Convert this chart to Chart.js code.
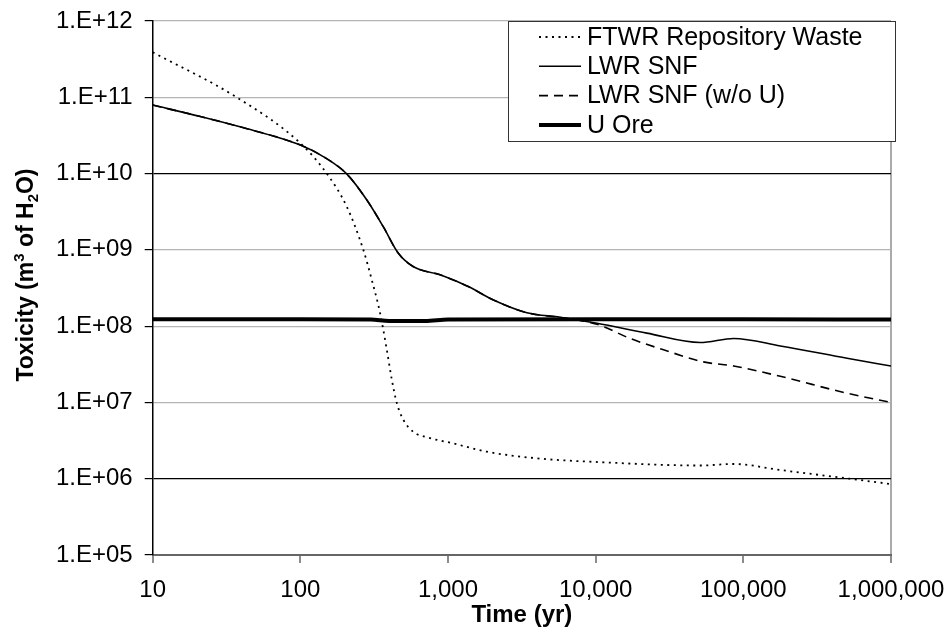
<!DOCTYPE html>
<html>
<head>
<meta charset="utf-8">
<script src="https://cdn.jsdelivr.net/npm/chart.js@4/dist/chart.umd.min.js"></script>
<style>
  html, body { margin: 0; padding: 0; background: #fff; }
  #wrap { width: 946px; height: 637px; }
</style>
</head>
<body>
<div id="wrap"><canvas id="myChart" width="946" height="637"></canvas></div>
<script>
// time axis (yr) and toxicity values (m3 of H2O)
const ftwrTime = [10, 37, 100, 151, 206, 267, 305, 347, 385, 416, 450, 499, 583, 718, 1090, 1830, 4000, 11300, 51000, 86000, 178000, 504000, 1000000];
const ftwrTox  = [3.9e11, 1.0e11, 2.5e10, 1.0e10, 3.7e9, 1.0e9, 4.0e8, 1.47e8, 4.9e7, 2.0e7, 9.8e6, 5.9e6, 4.1e6, 3.5e6, 2.9e6, 2.26e6, 1.85e6, 1.64e6, 1.49e6, 1.56e6, 1.3e6, 1.01e6, 8.5e5];

const lwrTime = [10, 21, 39, 100, 143, 206, 282, 365, 461, 584, 884, 1370, 2030, 3420, 5750, 10200, 22200, 51000, 86000, 178000, 504000, 1000000];
const lwrTox  = [7.9e10, 5.6e10, 4.1e10, 2.37e10, 1.67e10, 9.9e9, 4.5e9, 2.0e9, 9.0e8, 6.0e8, 4.7e8, 3.3e8, 2.2e8, 1.5e8, 1.31e8, 1.09e8, 8.1e7, 6.1e7, 6.9e7, 5.5e7, 3.8e7, 3.0e7];

const lwrNoUTime = [10, 21, 39, 100, 143, 206, 282, 365, 461, 584, 884, 1370, 2030, 3420, 5750, 10200, 17100, 28800, 53700, 86000, 178000, 504000, 1000000];
const lwrNoUTox  = [7.9e10, 5.6e10, 4.1e10, 2.37e10, 1.67e10, 9.9e9, 4.5e9, 2.0e9, 9.0e8, 6.0e8, 4.7e8, 3.3e8, 2.2e8, 1.5e8, 1.3e8, 1.06e8, 6.9e7, 4.9e7, 3.4e7, 3.0e7, 2.2e7, 1.32e7, 1.0e7];

const oreTime = [10, 100, 300, 400, 700, 1000, 10000, 100000, 1000000];
const oreTox  = [1.23e8, 1.23e8, 1.22e8, 1.17e8, 1.17e8, 1.22e8, 1.23e8, 1.23e8, 1.22e8];

const xTicks = [10, 100, 1000, 10000, 100000, 1000000];
const xTickLabels = ['10', '100', '1,000', '10,000', '100,000', '1,000,000'];
const yTicks = [1e5, 1e6, 1e7, 1e8, 1e9, 1e10, 1e11, 1e12];
const yTickLabels = ['1.E+05', '1.E+06', '1.E+07', '1.E+08', '1.E+09', '1.E+10', '1.E+11', '1.E+12'];
const darkGrid = [1e6, 1e10];

const pairs = (xs, ys) => xs.map((x, i) => ({ x: x, y: ys[i] }));
const FONT = "'Liberation Sans', Arial, sans-serif";

// legend drawn as a framed box in the upper right corner
const boxLegend = {
  id: 'boxLegend',
  afterDraw(chart) {
    const ctx = chart.ctx;
    const area = chart.chartArea;
    const x0 = area.right - 383, y0 = area.top, w = 387, h = 120;
    ctx.save();
    ctx.fillStyle = '#fff';
    ctx.fillRect(x0, y0, w, h);
    ctx.strokeStyle = '#333';
    ctx.lineWidth = 1;
    ctx.strokeRect(x0 + 0.5, y0 + 0.5, w, h);
    ctx.font = '25px ' + FONT;
    ctx.textBaseline = 'middle';
    ctx.fillStyle = '#000';
    chart.data.datasets.forEach((ds, i) => {
      const yy = y0 + 16 + i * 29.3;
      ctx.beginPath();
      ctx.setLineDash(ds.borderDash || []);
      ctx.lineWidth = ds.borderWidth;
      ctx.strokeStyle = '#000';
      ctx.moveTo(x0 + 31, yy);
      ctx.lineTo(x0 + 73, yy);
      ctx.stroke();
      ctx.setLineDash([]);
      ctx.fillText(ds.label, x0 + 79, yy + 1);
    });
    ctx.restore();
  }
};

// y axis title with a real superscript 3 and subscript 2
const yTitle = {
  id: 'yTitle',
  afterDraw(chart) {
    const ctx = chart.ctx;
    const area = chart.chartArea;
    const parts = [['Toxicity (m', 0], ['3', -9], [' of H', 0], ['2', 5], ['O)', 0]];
    const big = 'bold 23px ' + FONT;
    const small = 'bold 15px ' + FONT;
    ctx.save();
    let total = 0;
    parts.forEach(p => { ctx.font = p[1] ? small : big; total += ctx.measureText(p[0]).width; });
    ctx.translate(33, (area.top + area.bottom) / 2 - 13);
    ctx.rotate(-Math.PI / 2);
    ctx.fillStyle = '#000';
    ctx.textBaseline = 'alphabetic';
    let x = -total / 2;
    parts.forEach(p => {
      ctx.font = p[1] ? small : big;
      ctx.fillText(p[0], x, p[1]);
      x += ctx.measureText(p[0]).width;
    });
    ctx.restore();
  }
};

const ctx = document.getElementById('myChart');

new Chart(ctx, {
  type: 'line',
  data: {
    datasets: [
      {
        label: 'FTWR Repository Waste',
        data: pairs(ftwrTime, ftwrTox),
        borderColor: '#000',
        borderWidth: 1.8,
        borderDash: [2, 4.5]
      },
      {
        label: 'LWR SNF',
        data: pairs(lwrTime, lwrTox),
        borderColor: '#000',
        borderWidth: 1.6
      },
      {
        label: 'LWR SNF (w/o U)',
        data: pairs(lwrNoUTime, lwrNoUTox),
        borderColor: '#000',
        borderWidth: 1.6,
        borderDash: [9, 6]
      },
      {
        label: 'U Ore',
        data: pairs(oreTime, oreTox),
        borderColor: '#000',
        borderWidth: 4
      }
    ]
  },
  options: {
    responsive: false,
    animation: false,
    cubicInterpolationMode: 'monotone',
    elements: { point: { radius: 0 } },
    layout: { padding: { left: 0, right: 55, top: 21, bottom: 0 } },
    plugins: {
      legend: { display: false },
      tooltip: { enabled: false }
    },
    scales: {
      x: {
        type: 'logarithmic',
        min: 10,
        max: 1000000,
        afterBuildTicks: (scale) => { scale.ticks = xTicks.map(v => ({ value: v })); },
        afterFit: (scale) => { scale.height = 82; scale.paddingLeft = 0; scale.paddingRight = 0; },
        ticks: {
          autoSkip: false,
          maxRotation: 0,
          padding: 13,
          color: '#000',
          font: { family: FONT, size: 24 },
          callback: (v, i) => xTickLabels[i]
        },
        grid: {
          drawOnChartArea: true,
          color: (c) => (c.tick && c.tick.value === 1000000 ? '#aaa' : 'rgba(0,0,0,0)'),
          lineWidth: 2,
          tickLength: 8,
          tickColor: '#666',
          tickWidth: 1.5
        },
        border: { color: '#666', width: 2 },
        title: {
          display: true,
          text: 'Time (yr)',
          color: '#000',
          font: { family: FONT, size: 24, weight: 'bold' },
          padding: { top: 0, bottom: 7 }
        }
      },
      y: {
        type: 'logarithmic',
        min: 1e5,
        max: 1e12,
        afterBuildTicks: (scale) => { scale.ticks = yTicks.map(v => ({ value: v })); },
        afterFit: (scale) => { scale.width = 152.7; scale.paddingTop = 0; scale.paddingBottom = 0; },
        ticks: {
          autoSkip: false,
          padding: 12,
          color: '#000',
          font: { family: FONT, size: 24 },
          callback: (v, i) => yTickLabels[i]
        },
        grid: {
          color: (c) => (c.tick && darkGrid.includes(c.tick.value) ? '#000' : '#b4b4b4'),
          lineWidth: 1.2,
          tickLength: 8,
          tickColor: '#000'
        },
        border: { color: '#000', width: 1.5 }
      }
    }
  },
  plugins: [boxLegend, yTitle]
});
</script>
</body>
</html>
